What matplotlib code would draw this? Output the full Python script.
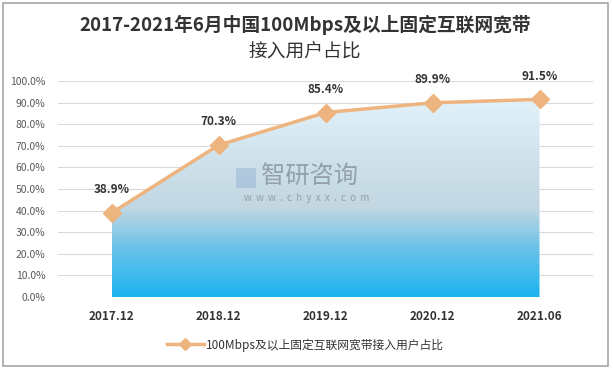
import matplotlib
matplotlib.use("Agg")
import matplotlib.pyplot as plt
import numpy as np
from matplotlib.colors import LinearSegmentedColormap
from matplotlib.patches import Rectangle

plt.rcParams['font.family'] = ['Noto Sans CJK SC', 'DejaVu Sans']

categories = ["2017.12", "2018.12", "2019.12", "2020.12", "2021.06"]
values = [38.9, 70.3, 85.4, 89.9, 91.5]
labels = ["38.9%", "70.3%", "85.4%", "89.9%", "91.5%"]
yticks = [0, 10, 20, 30, 40, 50, 60, 70, 80, 90, 100]
title_line1 = "2017-2021年6月中国100Mbps及以上固定互联网宽带"
title_line2 = "接入用户占比"
legend_label = "100Mbps及以上固定互联网宽带接入用户占比"

line_color = "#EDB47F"

fig = plt.figure(figsize=(6.13, 3.70), dpi=100)
ax = fig.add_axes([58/613, 1-297/370, (593-58)/613, (297-81)/370])

x = np.arange(len(categories))

# gradient fill
cmap = LinearSegmentedColormap.from_list("g", [
    (0.0, "#1ab3ef"),
    (0.25, "#6cc3e9"),
    (0.45, "#c2d7e2"),
    (0.7, "#cfe2ec"),
    (1.0, "#e2f2fa"),
])
poly = ax.fill_between(x, 0, values, color="none", lw=0)
grad = np.linspace(0, 1, 256).reshape(-1, 1)
im = ax.imshow(grad, cmap=cmap, origin="lower", aspect="auto",
               extent=[x[0], x[-1], 0, max(values)], zorder=1)
clip = poly.get_paths()[0]
im.set_clip_path(clip, transform=ax.transData)
ax.set_xlim(-0.5, len(categories)-0.5)
ax.set_ylim(0, 100)

ax.plot(x, values, color=line_color, lw=2.5, marker="D", markersize=9,
        markerfacecolor=line_color, markeredgecolor=line_color, zorder=3,
        label=legend_label)

for xi, v, lab in zip(x, values, labels):
    ax.annotate(lab, (xi, v), xytext=(0, 12), textcoords="offset points",
                ha="center", va="bottom", fontsize=8.5, fontweight="bold",
                color="#333333", zorder=4)

ax.set_yticks(yticks)
ax.set_yticklabels([f"{t:.1f}%" for t in yticks], fontsize=7.5, color="#595959")
ax.set_xticks(x)
ax.set_xticklabels(categories, fontsize=8.5, fontweight="bold", color="#333333")
ax.tick_params(axis="both", length=0)
ax.tick_params(axis="y", pad=9)
ax.tick_params(axis="x", pad=9)
ax.grid(axis="y", color="#d9d9d9", lw=0.8, zorder=0)
ax.set_axisbelow(True)
for s in ax.spines.values():
    s.set_visible(False)

# watermark
fig.patches.append(Rectangle((236/613, 1-188/370), 20/613, 20/370,
                             transform=fig.transFigure, facecolor="#9bb6d4",
                             alpha=0.55, edgecolor="none"))
fig.text(261/613, 1-177/370, "智研咨询", fontsize=17.5, color="#8a96a0", alpha=0.85,
         ha="left", va="center")
fig.text(307/613, 1-198/370, "w  w  w  .  c  h  y  x  x  .  c  o  m", fontsize=7,
         color="#8a96a0", alpha=0.85, ha="center", va="center")

fig.text(305/613, 1-25/370, title_line1, ha="center", va="center", fontsize=13.5,
         fontweight="bold", color="#333333")
fig.text(305/613, 1-51/370, title_line2, ha="center", va="center", fontsize=13.5,
         fontweight="medium", color="#333333")

leg = fig.legend(loc="center", bbox_to_anchor=(305/613, 1-345/370), frameon=False,
                 fontsize=8.5, handlelength=3.2, handletextpad=0.1)
for t in leg.get_texts():
    t.set_color("#333333")
leg.legend_handles[0].set_markersize(6)

fig.patches.append(Rectangle((3/613, 1-366/370), 605/613, 363/370,
                             transform=fig.transFigure, facecolor="none",
                             edgecolor="#a6a6a6", lw=1.2))

fig.savefig("out.png", dpi=100)
